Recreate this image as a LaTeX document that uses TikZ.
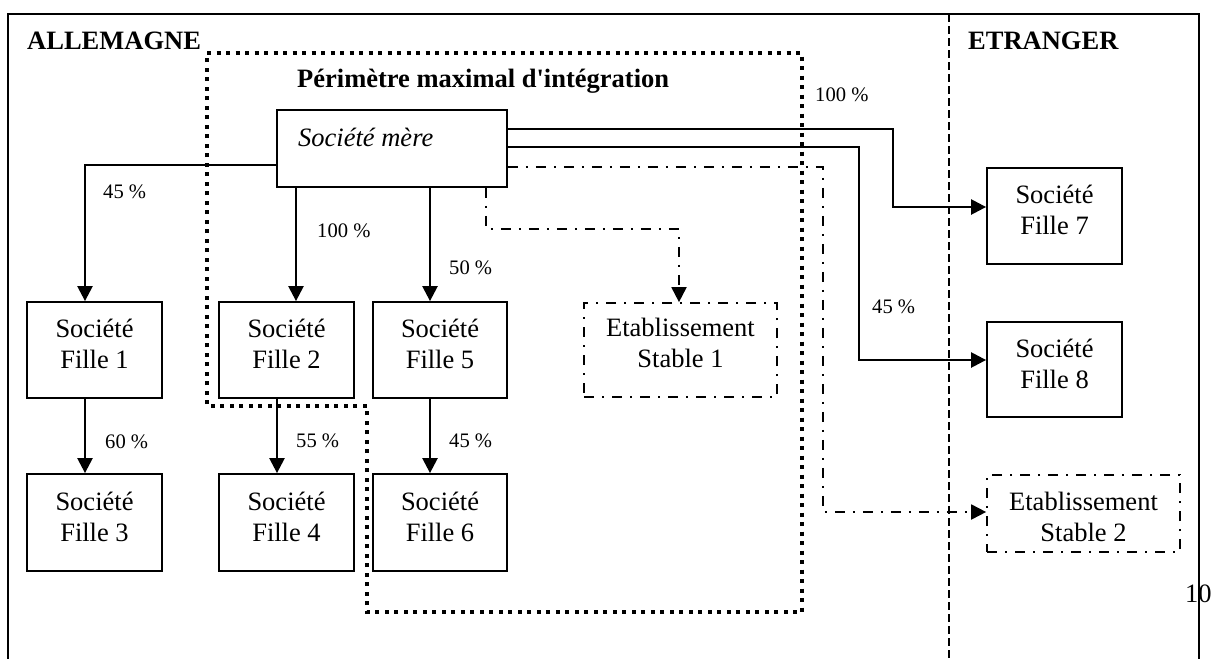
\documentclass[tikz,border=0pt]{standalone}
\usepackage{fontspec}
\setmainfont{Liberation Serif}
\usetikzlibrary{arrows.meta}
\newcommand{\twolines}[2]{\begin{tabular}[t]{@{}c@{}}#1\\#2\end{tabular}}
\begin{document}
\begin{tikzpicture}[x=1pt,y=-1pt,
  box/.style={draw, line width=1.8pt, inner sep=0pt},
  ebox/.style={draw, line width=1.7pt, inner sep=0pt, dash pattern=on 10pt off 8pt on 2pt off 8pt},
  txt/.style={font=\fontsize{26.5}{31}\selectfont, inner sep=0pt, anchor=base},
  pct/.style={font=\fontsize{20.6}{24}\selectfont, inner sep=0pt, anchor=base west},
  ttl/.style={font=\fontsize{26.5}{31}\selectfont\bfseries, inner sep=0pt, anchor=base west},
  arr/.style={line width=2.4pt, -{Triangle[length=15pt,width=15pt]}},
  darr/.style={line width=1.9pt, dash pattern=on 10pt off 8pt on 2pt off 8pt, -{Triangle[length=15pt,width=15pt]}},
  perim/.style={line width=4.2pt, dash pattern=on 4pt off 5.5pt},
  sep/.style={line width=1.4pt, dash pattern=on 8pt off 4pt}]
\useasboundingbox (0,0) rectangle (1211,659);

% frame and separator
\draw[line width=1.8pt] (8,665) -- (8,14) -- (1199,14) -- (1199,665);
\draw[sep] (949,14) -- (949,665);

% titles
\node[ttl] (allem) at (27,49) {ALLEMAGNE};
\node[ttl] (etr) at (968,49) {ETRANGER};
\node[ttl] (perimt) at (297,87) {Périmètre maximal d\textquotesingle intégration};

% boxes
\node[box, minimum width=230pt, minimum height=77pt] (m) at (392,148.5) {};
\node[txt, anchor=base west, font=\fontsize{26.5}{31}\selectfont\itshape] (mt) at (298,146) {Société mère};

\node[box, minimum width=135pt, minimum height=96pt] (f1) at (94.5,350) {};
\node[box, minimum width=135pt, minimum height=96pt] (f2) at (286.5,350) {};
\node[box, minimum width=134pt, minimum height=96pt] (f5) at (440,350) {};
\node[box, minimum width=135pt, minimum height=97pt] (f3) at (94.5,522.5) {};
\node[box, minimum width=135pt, minimum height=97pt] (f4) at (286.5,522.5) {};
\node[box, minimum width=134pt, minimum height=97pt] (f6) at (440,522.5) {};
\node[box, minimum width=135pt, minimum height=96pt] (f7) at (1054.5,216) {};
\node[box, minimum width=135pt, minimum height=95pt] (f8) at (1054.5,369.5) {};
\node[ebox, minimum width=193pt, minimum height=94pt] (es1) at (680.5,350) {};
\node[ebox, minimum width=193pt, minimum height=77pt] (es2) at (1083.5,513.5) {};

\node[txt] (t1) at (94.5,337) {\twolines{Société}{Fille 1}};
\node[txt] (t2) at (286.5,337) {\twolines{Société}{Fille 2}};
\node[txt] (t5) at (440,337) {\twolines{Société}{Fille 5}};
\node[txt] (t3) at (94.5,510) {\twolines{Société}{Fille 3}};
\node[txt] (t4) at (286.5,510) {\twolines{Société}{Fille 4}};
\node[txt] (t6) at (440,510) {\twolines{Société}{Fille 6}};
\node[txt] (t7) at (1054.5,203) {\twolines{Société}{Fille 7}};
\node[txt] (t8) at (1054.5,357) {\twolines{Société}{Fille 8}};
\node[txt] (te1) at (680.5,336) {\twolines{Etablissement}{Stable 1}};
\node[txt] (te2) at (1083.5,510) {\twolines{Etablissement}{Stable 2}};

% helper coordinates
\coordinate (a1) at (85,165);
\coordinate (a2) at (296,0);
\coordinate (a4) at (277,0);
\coordinate (a5) at (430,0);
\coordinate (a7) at (893,129);
\coordinate (b7) at (893,207);
\coordinate (a8) at (859,147);
\coordinate (b8) at (859,360);
\coordinate (a9) at (823,167);
\coordinate (b9) at (823,512);
\coordinate (c1) at (486,229);
\coordinate (c2) at (679,229);

% connectors
\draw[arr] (m.west |- a1) -| (f1.north -| a1);
\draw[arr] (f1.south -| a1) -- (f3.north -| a1);
\draw[arr] (m.south -| a2) -- (f2.north -| a2);
\draw[arr] (f2.south -| a4) -- (f4.north -| a4);
\draw[arr] (m.south -| a5) -- (f5.north -| a5);
\draw[arr] (f5.south -| a5) -- (f6.north -| a5);
\draw[arr] (m.east |- a7) -- (a7) -- (b7) -- (f7.west |- b7);
\draw[arr] (m.east |- a8) -- (a8) -- (b8) -- (f8.west |- b8);
\draw[darr] (m.east |- a9) -- (a9) -- (b9) -- (es2.west |- b9);
\draw[darr] (m.south -| c1) -- (c1) -- (c2) -- (es1.north -| c2);

% percentages
\node[pct] (p1) at (103,198) {45 \%};
\node[pct] (p2) at (317,237) {100 \%};
\node[pct] (p3) at (449,274) {50 \%};
\node[pct] (p4) at (105,448) {60 \%};
\node[pct] (p5) at (296,447) {55 \%};
\node[pct] (p6) at (449,447) {45 \%};
\node[pct] (p7) at (815,101) {100 \%};
\node[pct] (p8) at (872,313) {45 \%};

% perimeter
\draw[perim] (207,53) -- (802,53) -- (802,612) -- (367,612) -- (367,406) -- (207,406) -- cycle;

% page number
\node[txt, anchor=base west] (pg) at (1185,602) {10};
\end{tikzpicture}
\end{document}
